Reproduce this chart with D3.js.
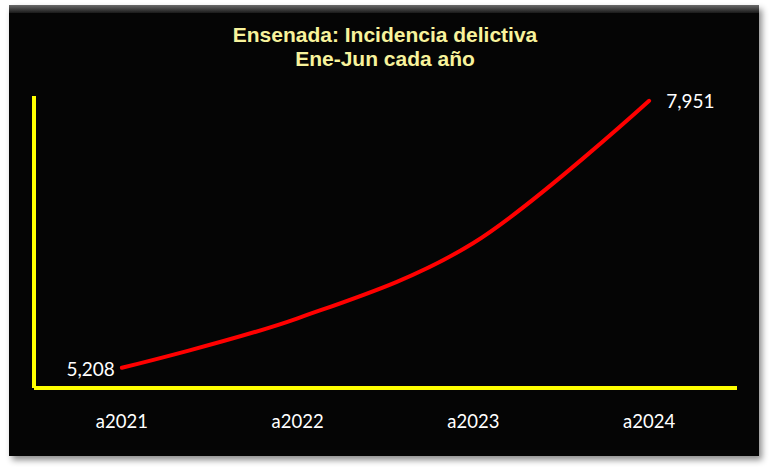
<!DOCTYPE html>
<html><head><meta charset="utf-8">
<script src="https://cdn.jsdelivr.net/npm/d3@7"></script>
<style>html,body{margin:0;padding:0;background:#fff;}svg{display:block;}</style>
</head><body>
<svg id="c" width="770" height="470"></svg>
<script>
const categories = ["a2021", "a2022", "a2023", "a2024"];
const values = [5208, 5716, 6490, 7951];
const labelIdx = [0, 3];
const titleLines = ["Ensenada: Incidencia delictiva", "Ene-Jun cada año"];

(function(){
const svg = d3.select("#c");
const defs = svg.append("defs");
const f = defs.append("filter").attr("id","sh").attr("x","-5%").attr("y","-5%").attr("width","110%").attr("height","115%");
f.append("feDropShadow").attr("dx",3).attr("dy",4).attr("stdDeviation",3).attr("flood-color","#000").attr("flood-opacity",0.45);
const g1 = defs.append("linearGradient").attr("id","bev").attr("x1",0).attr("y1",0).attr("x2",0).attr("y2",1);
g1.append("stop").attr("offset","0").attr("stop-color","#6a6a6a");
g1.append("stop").attr("offset","1").attr("stop-color","#050505");

// panel
svg.append("rect").attr("x",9).attr("y",5).attr("width",750).attr("height",451).attr("fill","#050505").attr("filter","url(#sh)");
svg.append("rect").attr("x",9).attr("y",5).attr("width",750).attr("height",10).attr("fill","url(#bev)");
svg.append("rect").attr("x",9).attr("y",13).attr("width",750).attr("height",443).attr("fill","#050505");

const pL = 34, pR = 737, pT = 96, pB = 388;
const x = d3.scaleBand().domain(categories).range([pL, pR]);
const y = d3.scaleLinear().domain([5000, 8000]).range([pB, pT]);

// title
const t = svg.append("text").attr("x",385).attr("y",42).attr("text-anchor","middle")
  .attr("font-family","Liberation Sans, Arial, sans-serif").attr("font-weight","bold").attr("font-size",21)
  .attr("fill","#f8f39c");
titleLines.forEach((s,i)=> t.append("tspan").attr("x",385).attr("dy", i? 24:0).text(s));

// axes
const xAxis = d3.axisBottom(x).tickSize(0).tickPadding(27);
const gx = svg.append("g").attr("transform",`translate(0,${pB})`).call(xAxis);
gx.select(".domain").attr("stroke","#ffff00").attr("stroke-width",4).attr("d",`M${pL},0H${pR}`);
gx.selectAll("text").attr("fill","#ffffff").attr("font-family","Lato, sans-serif").attr("font-size",18.5);

const yAxis = d3.axisLeft(y).tickValues([]).tickSize(0);
const gy = svg.append("g").attr("transform",`translate(${pL},0)`).call(yAxis);
gy.select(".domain").attr("stroke","#ffff00").attr("stroke-width",4).attr("d",`M0,${pT}V${pB}`);

// line
const line = d3.line().x((d,i)=>x(categories[i])+x.bandwidth()/2).y(d=>y(d)).curve(d3.curveCardinal.tension(0));
svg.append("path").datum(values).attr("d",line).attr("fill","none").attr("stroke","#ff0000").attr("stroke-width",4).attr("stroke-linecap","round");

// labels
labelIdx.forEach(i=>{
  const px = x(categories[i])+x.bandwidth()/2, py = y(values[i]);
  const first = i===0;
  svg.append("text").attr("x", first ? px-7 : px+17).attr("y", py+ (first?2:1)).attr("dy","0.35em")
    .attr("text-anchor", first ? "end" : "start")
    .attr("font-family","Lato, sans-serif").attr("font-size",19).attr("fill","#ffffff")
    .text(d3.format(",")(values[i]));
});
})();
</script>
</body></html>
